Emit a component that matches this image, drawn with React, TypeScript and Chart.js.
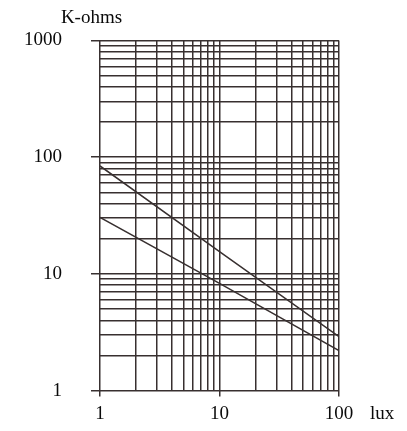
import React, { useEffect, useRef } from "react";
import { Chart, registerables } from "chart.js";

Chart.register(...registerables);

// Data (log-log photoresistor curves)
const luxValues = [1, 10, 100];
const curveUpper = [84, 15.5, 2.9];
const curveLower = [30.5, 8.3, 2.2];

// Axis grid and tick labels
const xGridValues = [1, 2, 3, 4, 5, 6, 7, 8, 9, 10, 20, 30, 40, 50, 60, 70, 80, 90, 100];
const yGridValues = [
  1, 2, 3, 4, 5, 6, 7, 8, 9,
  10, 20, 30, 40, 50, 60, 70, 80, 90,
  100, 200, 300, 400, 500, 600, 700, 800, 900,
  1000,
];
const xMajorValues = [1, 10, 100];
const xTickLabels = ["1", "10", "100"];
const yMajorValues = [1, 10, 100, 1000];
const yTickLabels = ["1", "10", "100", "1000"];
const yAxisTitle = "K-ohms";
const xAxisTitle = "lux";

const INK = "#383030";
const TEXT = "#0a0a0a";
const FONT_FAMILY = "'Liberation Serif', 'Times New Roman', serif";

export default function App() {
  const canvasRef = useRef<HTMLCanvasElement | null>(null);

  useEffect(() => {
    const canvas = canvasRef.current;
    if (!canvas) return;

    const textPlugin = {
      id: "axisTexts",
      afterDraw(chart: any) {
        const { ctx, chartArea } = chart;
        ctx.save();
        ctx.fillStyle = TEXT;
        ctx.font = `19px ${FONT_FAMILY}`;
        ctx.textBaseline = "middle";
        ctx.textAlign = "center";
        ctx.fillText(yAxisTitle, chartArea.left - 8.5, chartArea.top - 22.5);
        ctx.textAlign = "left";
        ctx.fillText(xAxisTitle, chartArea.right + 31, chartArea.bottom + 23);
        ctx.restore();
      },
    };

    const chart = new Chart(canvas, {
      type: "line",
      data: {
        datasets: [
          {
            data: luxValues.map((x, i) => ({ x, y: curveUpper[i] })),
            borderColor: INK,
            borderWidth: 1.5,
            pointRadius: 0,
            tension: 0,
          },
          {
            data: luxValues.map((x, i) => ({ x, y: curveLower[i] })),
            borderColor: INK,
            borderWidth: 1.5,
            pointRadius: 0,
            tension: 0,
          },
        ],
      },
      options: {
        animation: false,
        responsive: false,
        devicePixelRatio: 1,
        layout: { padding: { left: 0, top: 39.5, right: 68, bottom: 0 } },
        plugins: {
          legend: { display: false },
          tooltip: { enabled: false },
          title: { display: false },
        },
        scales: {
          x: {
            type: "logarithmic",
            min: 1,
            max: 100,
            afterBuildTicks: (scale: any) => {
              scale.ticks = xGridValues.map((v) => ({ value: v, major: xMajorValues.includes(v) }));
            },
            afterFit: (scale: any) => {
              scale.height = 34;
            },
            border: { display: false },
            grid: {
              color: INK,
              lineWidth: 1.5,
              drawTicks: true,
              tickLength: 6,
              tickColor: (ctx: any) =>
                ctx.tick && xMajorValues.includes(ctx.tick.value) ? INK : "rgba(0,0,0,0)",
            },
            ticks: {
              autoSkip: false,
              maxRotation: 0,
              minRotation: 0,
              padding: 6,
              color: TEXT,
              font: { family: FONT_FAMILY, size: 19 },
              callback: (value: any) => {
                const i = xMajorValues.indexOf(Number(value));
                return i >= 0 ? xTickLabels[i] : "";
              },
            },
          },
          y: {
            type: "logarithmic",
            min: 1,
            max: 1000,
            afterBuildTicks: (scale: any) => {
              scale.ticks = yGridValues.map((v) => ({ value: v, major: yMajorValues.includes(v) }));
            },
            afterFit: (scale: any) => {
              scale.width = 100;
            },
            border: { display: false },
            grid: {
              color: INK,
              lineWidth: 1.5,
              drawTicks: true,
              tickLength: 9,
              tickColor: (ctx: any) =>
                ctx.tick && yMajorValues.includes(ctx.tick.value) ? INK : "rgba(0,0,0,0)",
            },
            ticks: {
              autoSkip: false,
              padding: 29,
              color: TEXT,
              font: { family: FONT_FAMILY, size: 19 },
              callback: (value: any) => {
                const i = yMajorValues.indexOf(Number(value));
                return i >= 0 ? yTickLabels[i] : "";
              },
            },
          },
        },
      },
      plugins: [textPlugin],
    } as any);

    return () => {
      chart.destroy();
    };
  }, []);

  return (
    <div style={{ position: "absolute", left: 0, top: 0, width: 407, height: 431, background: "#fff" }}>
      <canvas ref={canvasRef} width={407} height={431} style={{ display: "block", width: 407, height: 431 }} />
    </div>
  );
}
